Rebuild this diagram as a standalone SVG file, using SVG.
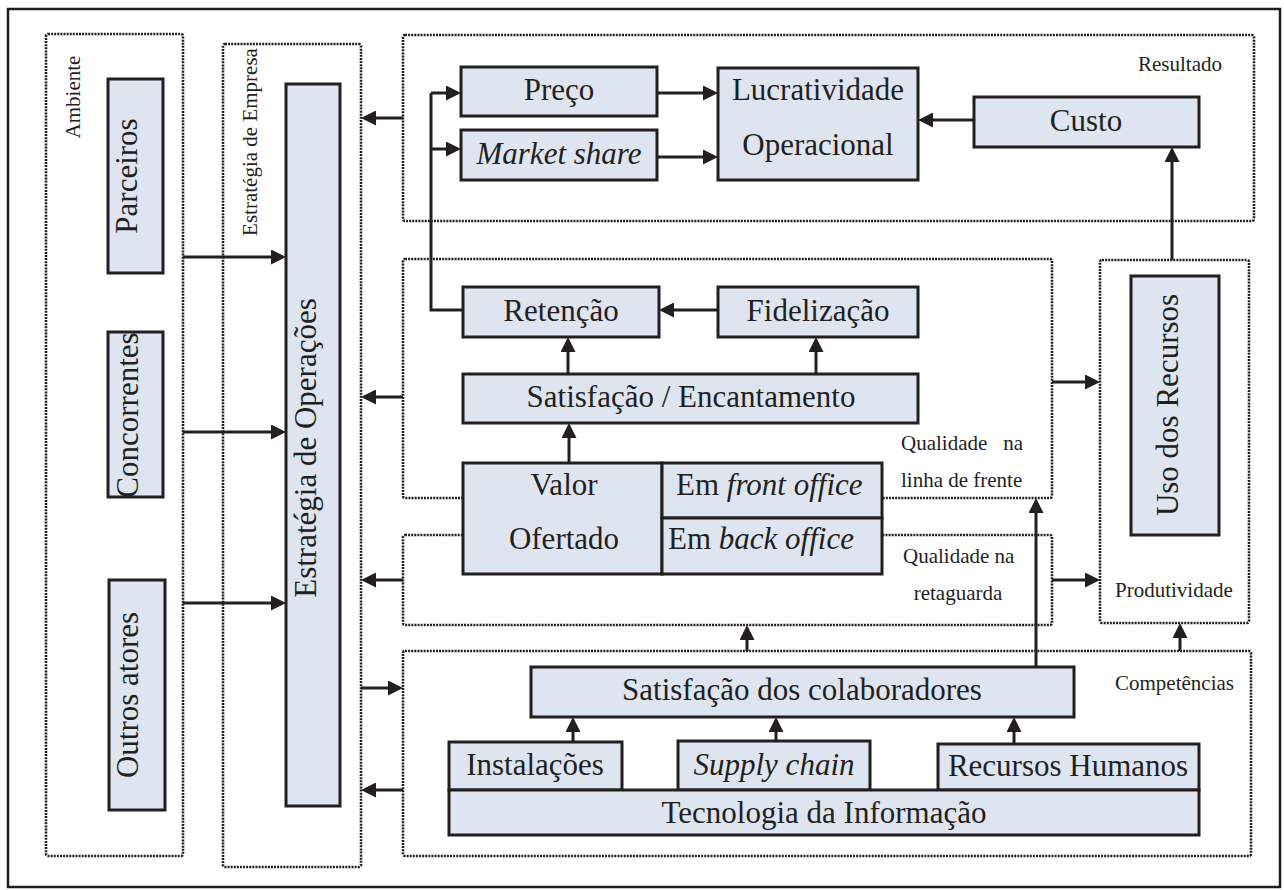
<svg xmlns="http://www.w3.org/2000/svg" width="1284" height="890" viewBox="0 0 1284 890">
  <style>
    .frame { fill: #ffffff; stroke: #231f20; stroke-width: 2.5; }
    .zone { fill: none; stroke: #231f20; stroke-width: 2.6; stroke-dasharray: 2 1.1; }
    .box { fill: #dee5f1; stroke: #231f20; stroke-width: 3; }
    .big { font-family: "Liberation Serif", "Times New Roman", serif; font-size: 31px; fill: #231f20; }
    .small { font-family: "Liberation Serif", "Times New Roman", serif; font-size: 21px; fill: #231f20; }
    .mid { text-anchor: middle; }
    .it { font-style: italic; }
    .wire { fill: none; stroke: #231f20; stroke-width: 3; }
    .arrow { fill: none; stroke: #231f20; stroke-width: 3; marker-end: url(#head); }
  </style>
  <defs>
    <marker id="head" markerUnits="userSpaceOnUse" markerWidth="15" markerHeight="15" refX="11" refY="7.5" orient="auto">
      <path d="M0,0 L15,7.5 L0,15 z" fill="#231f20"/>
    </marker>
  </defs>

  <rect class="frame" x="8" y="9" width="1272" height="878"/>

  <!-- dotted zones -->
  <g id="zones">
    <rect id="ambiente" class="zone" x="46" y="34" width="137" height="822" rx="2"/>
    <rect id="estrategia-empresa" class="zone" x="223" y="44" width="138" height="823" rx="2"/>
    <rect id="resultado" class="zone" x="403" y="35" width="851" height="186" rx="2"/>
    <rect id="qualidade-frente" class="zone" x="403" y="259" width="649" height="239" rx="2"/>
    <rect id="qualidade-retaguarda" class="zone" x="403" y="535" width="649" height="90" rx="2"/>
    <rect id="produtividade" class="zone" x="1100" y="260" width="149" height="363" rx="2"/>
    <rect id="competencias" class="zone" x="403" y="651" width="848" height="205" rx="2"/>
  </g>

  <!-- zone labels -->
  <g id="zone-labels">
    <text class="small mid" transform="translate(80,97) rotate(-90)">Ambiente</text>
    <text class="small mid" transform="translate(257,142) rotate(-90)">Estratégia de Empresa</text>
    <text class="small" x="1138" y="71">Resultado</text>
    <text class="small" x="901" y="450">Qualidade</text>
    <text class="small" x="1023" y="450" text-anchor="end">na</text>
    <text class="small" x="901" y="487">linha de frente</text>
    <text class="small" x="903" y="563">Qualidade na</text>
    <text class="small mid" x="958" y="600">retaguarda</text>
    <text class="small" x="1115" y="597">Produtividade</text>
    <text class="small" x="1115" y="690">Competências</text>
  </g>

  <!-- connectors -->
  <g id="connectors">
    <!-- environment into operations strategy -->
    <line class="arrow" x1="183" y1="257" x2="282" y2="257"/>
    <line class="arrow" x1="183" y1="432" x2="282" y2="432"/>
    <line class="arrow" x1="183" y1="603" x2="282" y2="603"/>
    <!-- feedback into company strategy -->
    <line class="arrow" x1="403" y1="118" x2="365" y2="118"/>
    <line class="arrow" x1="403" y1="397" x2="365" y2="397"/>
    <line class="arrow" x1="403" y1="580" x2="365" y2="580"/>
    <line class="arrow" x1="361" y1="688" x2="399" y2="688"/>
    <line class="arrow" x1="403" y1="790" x2="365" y2="790"/>
    <!-- result block -->
    <line class="arrow" x1="657" y1="93" x2="714" y2="93"/>
    <line class="arrow" x1="657" y1="157" x2="714" y2="157"/>
    <line class="arrow" x1="974" y1="120" x2="922" y2="120"/>
    <line class="arrow" x1="1172" y1="260" x2="1172" y2="151"/>
    <!-- retention loop to price and market share -->
    <polyline class="wire" points="463,310 431,310 431,93"/>
    <line class="arrow" x1="431" y1="93" x2="457" y2="93"/>
    <line class="arrow" x1="431" y1="149" x2="457" y2="149"/>
    <!-- front line quality -->
    <line class="arrow" x1="718" y1="310" x2="663" y2="310"/>
    <line class="arrow" x1="568" y1="374" x2="568" y2="341"/>
    <line class="arrow" x1="816" y1="374" x2="816" y2="341"/>
    <line class="arrow" x1="569" y1="463" x2="569" y2="427"/>
    <line class="arrow" x1="1052" y1="382" x2="1096" y2="382"/>
    <line class="arrow" x1="1052" y1="580" x2="1096" y2="580"/>
    <!-- competences -->
    <line class="arrow" x1="1036" y1="667" x2="1036" y2="502"/>
    <line class="arrow" x1="747" y1="651" x2="747" y2="629"/>
    <line class="arrow" x1="1180" y1="651" x2="1180" y2="627"/>
    <line class="arrow" x1="573" y1="742" x2="573" y2="721"/>
    <line class="arrow" x1="776" y1="741" x2="776" y2="721"/>
    <line class="arrow" x1="1014" y1="744" x2="1014" y2="721"/>
  </g>

  <!-- environment actors -->
  <g id="parceiros">
    <rect class="box" x="108" y="79" width="55" height="194"/>
    <text class="big mid" transform="translate(137,176) rotate(-90)">Parceiros</text>
  </g>
  <g id="concorrentes">
    <rect class="box" x="108" y="332" width="55" height="165"/>
    <text class="big mid" transform="translate(138,415) rotate(-90)">Concorrentes</text>
  </g>
  <g id="outros-atores">
    <rect class="box" x="109" y="580" width="56" height="230"/>
    <text class="big mid" transform="translate(138,695) rotate(-90)">Outros atores</text>
  </g>

  <g id="estrategia-operacoes">
    <rect class="box" x="286" y="84" width="54" height="722"/>
    <text class="big mid" transform="translate(316,448) rotate(-90)">Estratégia de Operações</text>
  </g>

  <!-- result -->
  <g id="preco">
    <rect class="box" x="461" y="67" width="196" height="49"/>
    <text class="big mid" x="559" y="100">Preço</text>
  </g>
  <g id="market-share">
    <rect class="box" x="461" y="130" width="196" height="50"/>
    <text class="big mid it" x="559" y="164">Market share</text>
  </g>
  <g id="lucratividade">
    <rect class="box" x="718" y="68" width="200" height="112"/>
    <text class="big mid" x="818" y="100">Lucratividade</text>
    <text class="big mid" x="818" y="155">Operacional</text>
  </g>
  <g id="custo">
    <rect class="box" x="974" y="97" width="225" height="50"/>
    <text class="big mid" x="1086" y="131">Custo</text>
  </g>

  <!-- customer chain -->
  <g id="retencao">
    <rect class="box" x="463" y="287" width="196" height="50"/>
    <text class="big mid" x="561" y="321">Retenção</text>
  </g>
  <g id="fidelizacao">
    <rect class="box" x="718" y="287" width="200" height="50"/>
    <text class="big mid" x="818" y="321">Fidelização</text>
  </g>
  <g id="satisfacao-encantamento">
    <rect class="box" x="463" y="374" width="455" height="49"/>
    <text class="big mid" x="691" y="407">Satisfação / Encantamento</text>
  </g>
  <g id="valor-ofertado">
    <rect class="box" x="463" y="463" width="199" height="111"/>
    <text class="big mid" x="564" y="495">Valor</text>
    <text class="big mid" x="564" y="549">Ofertado</text>
  </g>
  <g id="front-office">
    <rect class="box" x="662" y="463" width="220" height="55"/>
    <text class="big" x="676" y="495">Em <tspan class="it">front office</tspan></text>
  </g>
  <g id="back-office">
    <rect class="box" x="662" y="518" width="220" height="56"/>
    <text class="big" x="668" y="549">Em <tspan class="it">back office</tspan></text>
  </g>

  <g id="uso-recursos">
    <rect class="box" x="1131" y="276" width="88" height="259"/>
    <text class="big mid" transform="translate(1178,405) rotate(-90)">Uso dos Recursos</text>
  </g>

  <!-- competences -->
  <g id="satisfacao-colaboradores">
    <rect class="box" x="531" y="667" width="543" height="50"/>
    <text class="big mid" x="802" y="700">Satisfação dos colaboradores</text>
  </g>
  <g id="instalacoes">
    <rect class="box" x="449" y="742" width="173" height="48"/>
    <text class="big mid" x="535" y="775">Instalações</text>
  </g>
  <g id="supply-chain">
    <rect class="box" x="678" y="741" width="192" height="49"/>
    <text class="big mid it" x="774" y="775">Supply chain</text>
  </g>
  <g id="recursos-humanos">
    <rect class="box" x="938" y="744" width="261" height="46"/>
    <text class="big mid" x="1068" y="776">Recursos Humanos</text>
  </g>
  <g id="tecnologia-informacao">
    <rect class="box" x="449" y="790" width="750" height="45"/>
    <text class="big mid" x="824" y="823">Tecnologia da Informação</text>
  </g>
</svg>
